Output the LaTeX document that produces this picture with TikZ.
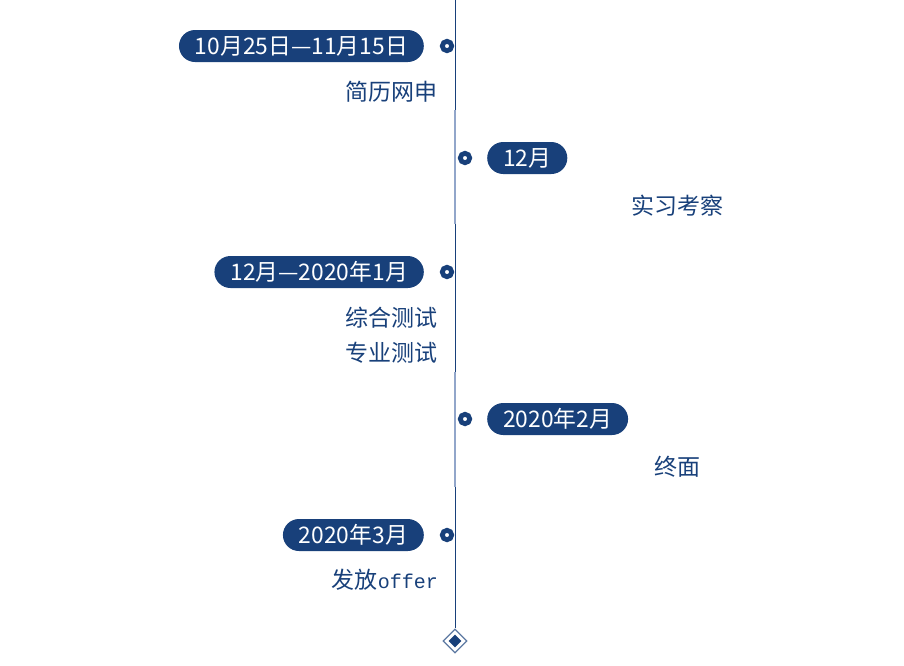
\documentclass[tikz,border=0pt]{standalone}
\usepackage{fontspec}
\setmainfont{Noto Sans CJK SC}
\newfontfamily\pillfont{Noto Sans CJK SC}
\newfontfamily\monofont{Liberation Mono}
\usetikzlibrary{shapes.geometric}
\definecolor{navy}{RGB}{24,64,122}
\definecolor{paleline}{RGB}{146,166,202}
\tikzset{
  pill/.style={fill=navy, text=white, rounded corners=16pt, minimum height=32pt,
    inner xsep=16pt, inner ysep=0pt, font=\pillfont\fontsize{22.8}{22.8}\selectfont},
  dot/.style={circle, draw=navy, fill=white, line width=4.8pt, minimum size=9.4pt, inner sep=0pt},
  phase/.style={text=navy, inner sep=0pt, font=\fontsize{23}{23}\selectfont}
}
\begin{document}
\begin{tikzpicture}[x=1pt,y=-1pt]
\useasboundingbox (0,0) rectangle (904,665);

\coordinate (top) at (455,0);
\node[diamond, draw=navy!70, line width=1.3pt, minimum size=24pt, inner sep=0pt] (end) at (455,641) {};
\node[diamond, fill=navy, minimum size=13pt, inner sep=0pt] at (455,641) {};
\draw[navy, line width=1pt] (top) -- (end.north);
\draw[paleline, line width=2pt] (454.5,110) -- (454.5,224);
\draw[paleline, line width=2pt] (454.5,372) -- (454.5,487);

\node[dot] (d1) at (447,46) {};
\node[pill, anchor=east] (p1) at (424,46) {10月25日—11月15日};
\node[phase, anchor=east] (t1) at (438,92) {简历网申};

\node[dot] (d2) at (465,158) {};
\node[pill, anchor=west] (p2) at (487,158) {12月};
\node[phase] (t2) at (677,206) {实习考察};

\node[dot] (d3) at (447,272) {};
\node[pill, anchor=east] (p3) at (424,272) {12月—2020年1月};
\node[phase, anchor=east] (t3) at (438,318) {综合测试};
\node[phase, anchor=east] (t4) at (438,353) {专业测试};

\node[dot] (d4) at (465,419) {};
\node[pill, anchor=west] (p4) at (487,419) {2020年2月};
\node[phase] (t5) at (677,467) {终面};

\node[dot] (d5) at (447,535) {};
\node[pill, anchor=east] (p5) at (424,535) {2020年3月};
\node[phase, anchor=east] (t6) at (438,580) {发放{\monofont\fontsize{20}{20}\selectfont offer}};
\end{tikzpicture}
\end{document}
